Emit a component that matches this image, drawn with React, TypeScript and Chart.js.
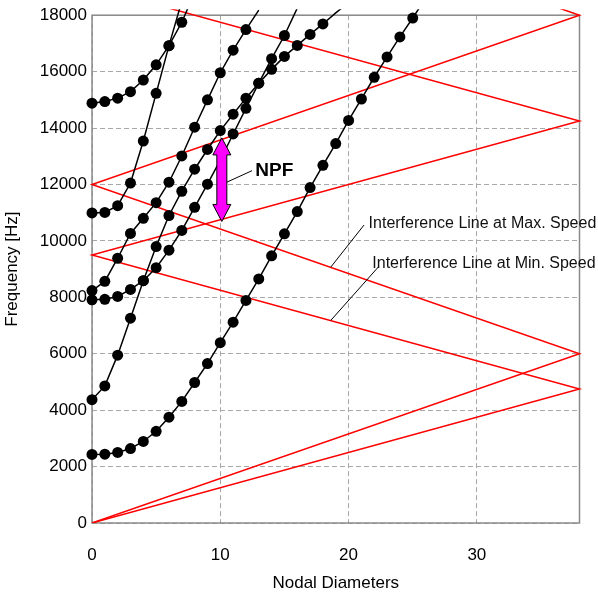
import React, { useEffect, useRef } from 'react';
import { Chart, registerables } from 'chart.js';

Chart.register(...registerables);

// ---- Data ----
const ND = [0, 1, 2, 3, 4, 5, 6, 7, 8, 9, 10, 11, 12, 13, 14, 15, 16, 17, 18, 19, 20, 21, 22, 23, 24, 25, 26];

const modeLow = [2430, 2440, 2500, 2640, 2890, 3250, 3750, 4310, 4980, 5650, 6390, 7120, 7890, 8650, 9470, 10250, 11040, 11890, 12680, 13450, 14270, 15030, 15800, 16520, 17230, 17900, 18600];
const modeSecond = [4370, 4860, 5950, 7260, 8590, 9800, 10900, 11760, 12540, 13240, 13910, 14490, 15060, 15590, 16080, 16540, 16930, 17320, 17690, 18080, 18450];
const modeThirdB = [7910, 7930, 8030, 8280, 8590, 9050, 9670, 10370, 11190, 12010, 12860, 13790, 14700, 15590, 16460, 17280, 18250];
const modeThirdA = [8240, 8565, 9385, 10265, 10800, 11355, 12080, 13010, 14030, 15000, 15960, 16760, 17490, 18180];
const modeFourth = [10990, 11010, 11250, 12050, 13540, 15230, 16920, 18500];
const modeFifth = [14880, 14940, 15060, 15290, 15700, 16240, 16920, 17750, 18800];

const maxSpeedND = [0, 38, 0, 38, 0];
const maxSpeedHz = [0, 6000, 12000, 18000, 24000];
const minSpeedND = [0, 38, 0, 38, 0];
const minSpeedHz = [0, 4750, 9500, 14250, 19000];

const X_TICKS = [0, 10, 20, 30];
const Y_TICKS = [0, 2000, 4000, 6000, 8000, 10000, 12000, 14000, 16000, 18000];
const X_MAX = 38;
const Y_MAX = 18000;

// annotations (data coordinates)
const NPF_X = 10.12;
const NPF_TOP = 13650;
const NPF_BOTTOM = 10690;
const NPF_TEXT = { x: 12.73, y: 12500, text: 'NPF' };
const NPF_LEADER = [{ x: 12.48, y: 12490 }, { x: 10.5, y: 12080 }];
const MAX_TEXT = { x: 21.56, y: 10610, text: 'Interference Line at Max. Speed' };
const MAX_LEADER = [{ x: 21.2, y: 10560 }, { x: 18.6, y: 9063 }];
const MIN_TEXT = { x: 21.85, y: 9195, text: 'Interference Line at Min. Speed' };
const MIN_LEADER = [{ x: 22.35, y: 9090 }, { x: 18.6, y: 7175 }];

const FONT = "'Liberation Sans', Arial, sans-serif";

const toPoints = (vals: number[], xs: number[] = ND) => vals.map((v, i) => ({ x: xs[i], y: v }));

const hiddenPoint = (ctx: any) => {
  const r = ctx.raw;
  if (!r) return false;
  if (r.y > Y_MAX) return true;
  if (Math.abs(r.x - NPF_X) < 0.5 && r.y > NPF_BOTTOM && r.y < NPF_TOP - 400) return true;
  return false;
};

const blackSeries = (label: string, vals: number[]) => ({
  label,
  data: toPoints(vals),
  showLine: true,
  borderColor: '#000',
  backgroundColor: '#000',
  borderWidth: 1.5,
  pointRadius: (ctx: any) => (hiddenPoint(ctx) ? 0 : 5.5),
  pointBackgroundColor: '#000',
  pointBorderColor: '#000',
  pointBorderWidth: 0,
  tension: 0,
  clip: { left: 6, top: 6, right: 6, bottom: 0 },
});

const redSeries = (label: string, xs: number[], ys: number[]) => ({
  label,
  data: toPoints(ys, xs),
  showLine: true,
  borderColor: '#ff0000',
  backgroundColor: '#ff0000',
  borderWidth: 1.5,
  pointRadius: 0,
  tension: 0,
  clip: { left: 6, top: 6, right: 6, bottom: 0 },
});

const framePlugin = {
  id: 'frame',
  beforeDatasetsDraw(chart: any) {
    const { ctx, chartArea } = chart;
    const { left, top, right, bottom } = chartArea;
    ctx.save();
    ctx.strokeStyle = '#8a8a8a';
    ctx.lineWidth = 1.5;
    ctx.strokeRect(left, top, right - left, bottom - top);
    ctx.restore();
  },
};

const annotationPlugin = {
  id: 'annotations',
  afterDatasetsDraw(chart: any) {
    const { ctx } = chart;
    const xs = chart.scales.x;
    const ys = chart.scales.y;
    const px = (p: { x: number; y: number }) => [xs.getPixelForValue(p.x), ys.getPixelForValue(p.y)];

    ctx.save();
    // leader lines
    ctx.strokeStyle = '#000';
    ctx.lineWidth = 1;
    [NPF_LEADER, MAX_LEADER, MIN_LEADER].forEach((seg) => {
      const [x1, y1] = px(seg[0]);
      const [x2, y2] = px(seg[1]);
      ctx.beginPath();
      ctx.moveTo(x1, y1);
      ctx.lineTo(x2, y2);
      ctx.stroke();
    });

    // double arrow
    const ax = xs.getPixelForValue(NPF_X);
    const yT = ys.getPixelForValue(NPF_TOP);
    const yB = ys.getPixelForValue(NPF_BOTTOM);
    const hw = 9, sw = 5, hl = 17;
    ctx.beginPath();
    ctx.moveTo(ax, yT);
    ctx.lineTo(ax + hw, yT + hl);
    ctx.lineTo(ax + sw, yT + hl);
    ctx.lineTo(ax + sw, yB - hl);
    ctx.lineTo(ax + hw, yB - hl);
    ctx.lineTo(ax, yB);
    ctx.lineTo(ax - hw, yB - hl);
    ctx.lineTo(ax - sw, yB - hl);
    ctx.lineTo(ax - sw, yT + hl);
    ctx.lineTo(ax - hw, yT + hl);
    ctx.closePath();
    ctx.fillStyle = '#ff00ff';
    ctx.fill();
    ctx.strokeStyle = '#000';
    ctx.lineWidth = 1;
    ctx.stroke();

    // texts
    ctx.fillStyle = '#000';
    ctx.textAlign = 'left';
    ctx.textBaseline = 'middle';
    ctx.font = `bold 19px ${FONT}`;
    {
      const [x, y] = px(NPF_TEXT);
      ctx.fillText(NPF_TEXT.text, x, y);
    }
    ctx.font = `16px ${FONT}`;
    ctx.fillStyle = '#111';
    [MAX_TEXT, MIN_TEXT].forEach((t) => {
      const [x, y] = px(t);
      ctx.fillText(t.text, x, y);
    });
    ctx.restore();
  },
};

export default function App() {
  const ref = useRef<HTMLCanvasElement | null>(null);

  useEffect(() => {
    if (!ref.current) return;
    const chart = new Chart(ref.current, {
      type: 'scatter',
      data: {
        datasets: [
          blackSeries('Mode 1', modeLow),
          blackSeries('Mode 2', modeSecond),
          blackSeries('Mode 3B', modeThirdB),
          blackSeries('Mode 3A', modeThirdA),
          blackSeries('Mode 4', modeFourth),
          blackSeries('Mode 5', modeFifth),
          redSeries('Interference Line at Max. Speed', maxSpeedND, maxSpeedHz),
          redSeries('Interference Line at Min. Speed', minSpeedND, minSpeedHz),
        ] as any,
      },
      options: {
        animation: false,
        responsive: false,
        maintainAspectRatio: false,
        events: [],
        layout: { padding: { top: 11.5, right: 18.5, left: 0, bottom: 0 } },
        plugins: {
          legend: { display: false },
          tooltip: { enabled: false },
          title: { display: false },
        },
        scales: {
          x: {
            type: 'linear',
            min: 0,
            max: X_MAX,
            afterBuildTicks: (s: any) => {
              s.ticks = X_TICKS.map((v) => ({ value: v }));
            },
            afterFit: (s: any) => {
              s.height = 72;
            },
            grid: { color: '#a8a8a8', lineWidth: 1, drawTicks: false, tickLength: 0 },
            border: { display: false, dash: [5, 3] },
            ticks: {
              padding: 22,
              color: '#000',
              font: { size: 17, family: FONT },
              callback: (v: any) => String(v),
              maxRotation: 0,
            },
            title: {
              display: true,
              text: 'Nodal Diameters',
              color: '#000',
              font: { size: 17, family: FONT },
              padding: { top: 0, bottom: 1 },
            },
          },
          y: {
            type: 'linear',
            min: 0,
            max: Y_MAX,
            afterBuildTicks: (s: any) => {
              s.ticks = Y_TICKS.map((v) => ({ value: v }));
            },
            afterFit: (s: any) => {
              s.width = 92;
            },
            grid: { color: '#a8a8a8', lineWidth: 1, drawTicks: false, tickLength: 0 },
            border: { display: false, dash: [5, 3] },
            ticks: {
              padding: 5,
              color: '#000',
              font: { size: 17, family: FONT },
              callback: (v: any) => String(v),
            },
            title: {
              display: true,
              text: 'Frequency [Hz]',
              color: '#000',
              font: { size: 17, family: FONT },
              padding: { top: 2, bottom: 0 },
            },
          },
        },
      } as any,
      plugins: [framePlugin, annotationPlugin],
    });
    return () => chart.destroy();
  }, []);

  return (
    <div style={{ position: 'absolute', left: 0, top: 0, width: 598, height: 595, background: '#fff' }}>
      <canvas ref={ref} width={598} height={595} style={{ display: 'block', width: 598, height: 595 }} />
    </div>
  );
}
